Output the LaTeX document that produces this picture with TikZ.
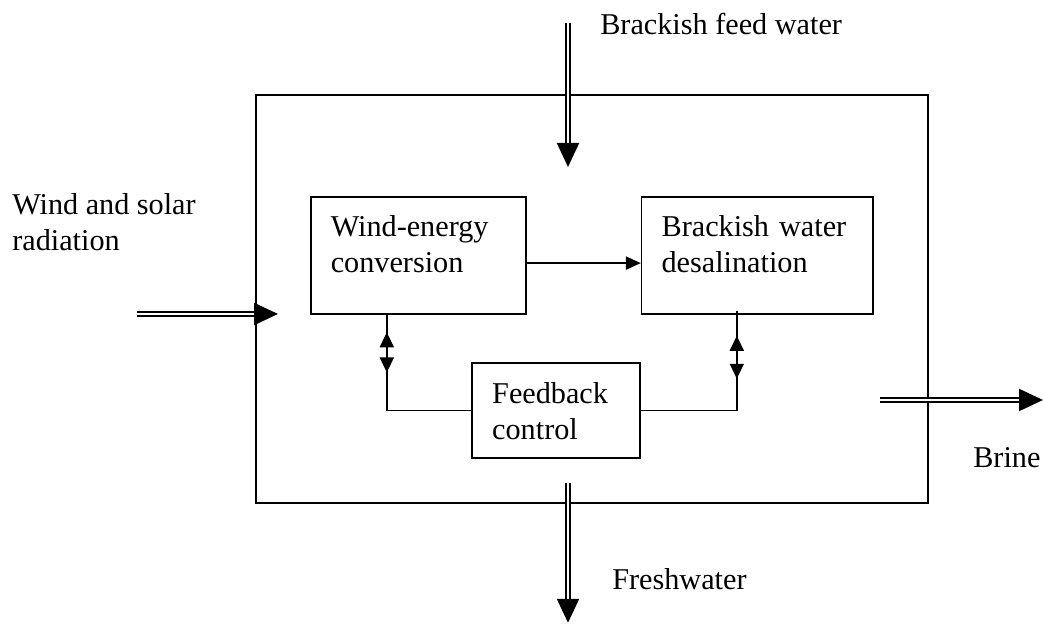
\documentclass[tikz,border=0pt]{standalone}
\usepackage{fontspec}
\setmainfont{Liberation Serif}
\usetikzlibrary{arrows.meta,decorations.markings}

\begin{document}
\begin{tikzpicture}[
        every node/.style={font=\fontsize{21.5}{25.6}\selectfont},
        block/.style={draw, line width=1.1pt, align=left, inner xsep=0.5cm, inner ysep=0pt, text height=15pt},
        flow/.style={draw, double, double distance=1.3pt, line width=1.5pt, -{Triangle[length=0.6cm,width=0.55cm]}},
        link/.style={draw, line width=1.1pt},
        twoway/.style 2 args={postaction={decorate}, decoration={markings,
            mark=at position #1 with {\arrowreversed{Triangle[length=0.375cm,width=0.35cm]}},
            mark=at position #2 with {\arrow{Triangle[length=0.375cm,width=0.35cm]}}}}
    ]
        \useasboundingbox (0,0) rectangle (26.1,15.6);

        \node[draw, line width=1.1pt, minimum width=16.8cm, minimum height=10.2cm] (plant) at (14.8,8.125) {};

        \node[block, text width=4.38cm, minimum width=5.38cm, minimum height=2.925cm, text depth=42.7pt] (wind) at (10.46,9.2125) {Wind-energy\\conversion};
        \node[block, text width=4.78cm, minimum width=5.78cm, minimum height=2.925cm, text depth=42.7pt] (desal) at (18.93,9.2125) {Brackish water\\desalination};
        \node[block, text width=3.19cm, minimum width=4.19cm, minimum height=2.38cm, text depth=25.4pt] (feedback) at (13.9,5.34) {Feedback\\control};

        \node[anchor=north west, align=left, inner sep=0pt, text height=15pt] (source) at (0.3,9.877) {Wind and solar\\radiation};
        \node[anchor=base west, inner sep=0pt] (feedlabel) at (15.0,14.725) {Brackish feed water};
        \node[anchor=base west, inner sep=0pt] (freshlabel) at (15.3,0.85) {Freshwater};
        \node[anchor=base west, inner sep=0pt] (brinelabel) at (24.325,3.9) {Brine};

        % free ends of the flows
        \coordinate (feed in) at (14.2,15.025);
        \coordinate (feed end) at (14.2,11.425);
        \coordinate (sun in) at (3.425,7.75);
        \coordinate (sun end) at (6.95,7.75);
        \coordinate (brine in) at (22.0,5.6);
        \coordinate (brine end) at (26.075,5.6);
        \coordinate (fresh in) at (14.2,3.525);
        \coordinate (fresh end) at (14.2,0.03);

        \path[flow] (feed in) -- (feed end);
        \path[flow] (sun in) -- (sun end);
        \path[flow] (brine in) -- (brine end);
        \path[flow] (fresh in) -- (fresh end);

        \path[link,-{Triangle[length=0.375cm,width=0.33cm]}] ([yshift=-0.19cm]wind.east) -- ([yshift=-0.19cm]desal.west);
        \path[link,twoway={0.4375cm}{1.4425cm}] ([xshift=-0.79cm]wind.south) |- (feedback.west);
        \path[link,twoway={0.625cm}{1.7cm}] ([xshift=-0.51cm,yshift=0.1cm]desal.south) |- (feedback.east);
    \end{tikzpicture}
\end{document}
